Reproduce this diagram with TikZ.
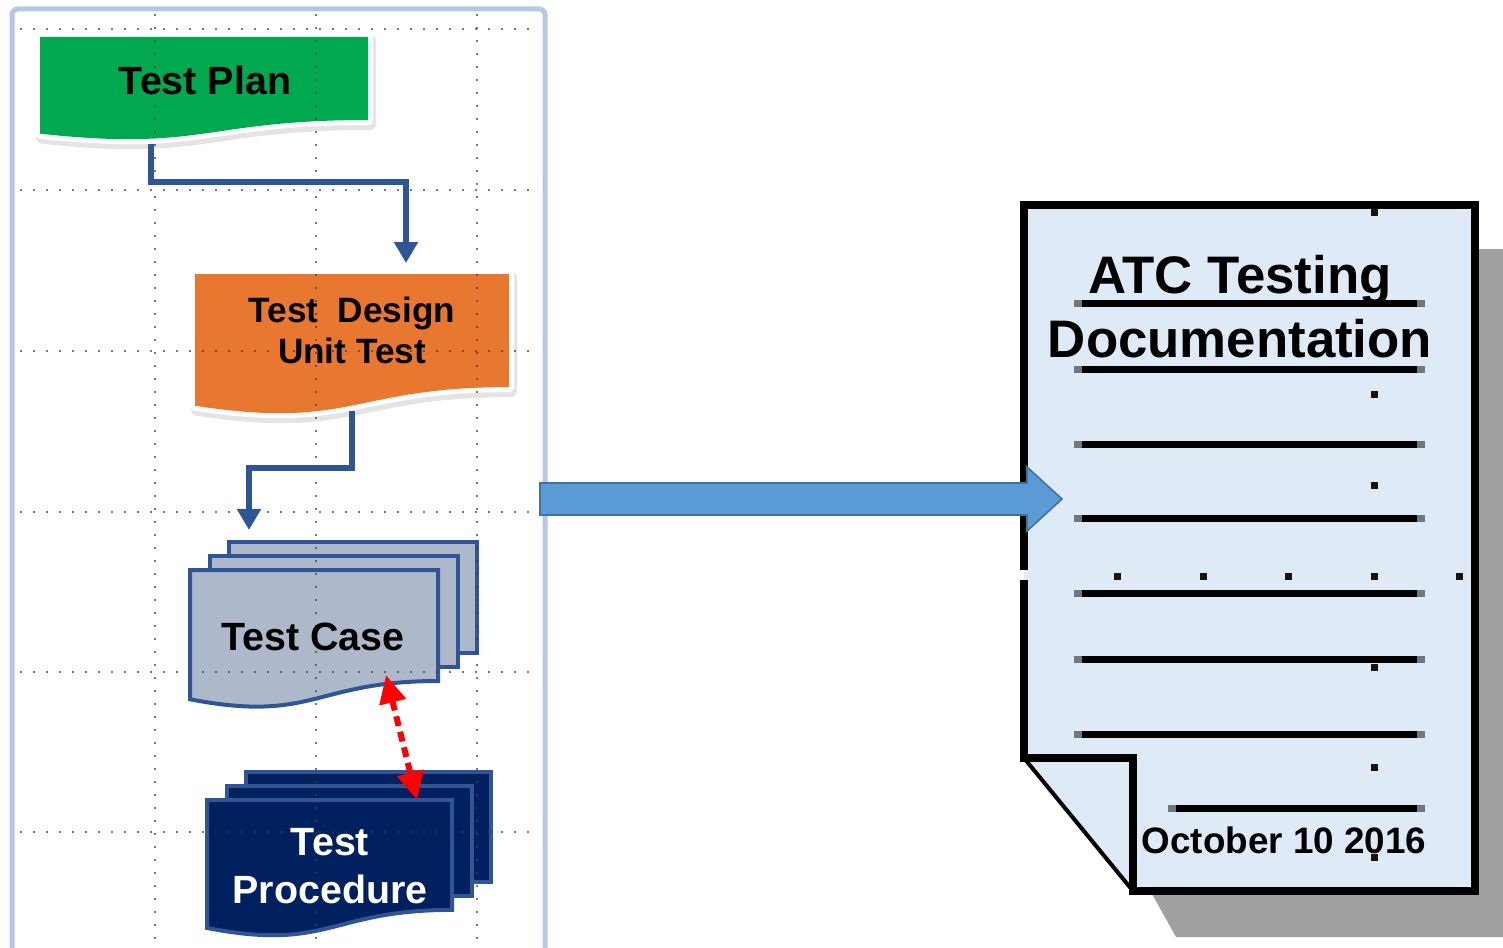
\documentclass[tikz,border=0pt]{standalone}
\usepackage{fontspec}
\setmainfont{Liberation Sans}
\usetikzlibrary{arrows.meta}
\definecolor{planGreen}{HTML}{00A850}
\definecolor{designOrange}{HTML}{E87830}
\definecolor{caseGray}{HTML}{ADB9CA}
\definecolor{procNavy}{HTML}{002060}
\definecolor{edgeBlue}{HTML}{2F5597}
\definecolor{panelBlue}{HTML}{B4C7E7}
\definecolor{arrowBlue}{HTML}{5B9BD5}
\definecolor{arrowEdge}{HTML}{41719C}
\definecolor{paperBlue}{HTML}{DEEAF6}
\definecolor{shadowGray}{HTML}{A0A0A0}
\definecolor{handleGray}{HTML}{6E7680}
\newcommand{\docShape}[4]{(#1,#2) -- (#3,#2) -- (#3,{#2+0.802*(#4-#2)}) .. controls ({(#1+#3)/2},{#2+0.802*(#4-#2)}) and ({(#1+#3)/2},{#2+1.107*(#4-#2)}) .. (#1,{#2+0.934*(#4-#2)}) -- cycle}
\newcommand{\glowDoc}[5]{%
  \filldraw[black!30, line width=6pt, line join=round, opacity=0.35, shift={(2,4)}] \docShape{#2}{#3}{#4}{#5};
  \filldraw[white, line width=5pt, line join=round] \docShape{#2}{#3}{#4}{#5};
  \fill[#1] \docShape{#2}{#3}{#4}{#5};}
\newcommand{\stackDoc}[5]{%
  \foreach \k in {2,1}
    \filldraw[stackEdge, fill=#1] ({#2+19.5*\k},{#3-14*\k}) rectangle ({#4+19.5*\k},{#3-14*\k+0.802*(#5-#3)});
  \filldraw[stackEdge, fill=#1] \docShape{#2}{#3}{#4}{#5};}

\begin{document}
\begin{tikzpicture}[x=0.5pt, y=-0.5pt]
  \tikzset{
    boxText/.style={font=\fontsize{19.7}{24}\selectfont\bfseries, align=center, inner sep=0pt},
    titleText/.style={font=\fontsize{26.4}{32}\selectfont\bfseries, align=center, inner sep=0pt},
    dateText/.style={font=\fontsize{18.4}{22}\selectfont\bfseries, inner sep=0pt},
    stackEdge/.style={draw=edgeBlue, line width=2pt},
    gridDots/.style={draw=black!75, line width=1pt, dash pattern=on 1pt off 5.5pt, opacity=0.7},
    flow/.style={draw=edgeBlue, line width=3pt, -{Triangle[length=10.5pt, width=11.5pt]}},
    linkRed/.style={draw=red, line width=3pt, dash pattern=on 5pt off 3pt, {Triangle[length=14pt, width=13pt]}-{Triangle[length=14pt, width=13pt]}},
    bigArrow/.style={fill=arrowBlue, draw=arrowEdge, line width=0.8pt},
    ruleLine/.style={draw=black, line width=3.5pt},
    ruleEnd/.style={draw=handleGray, line width=3.5pt},
    dotMark/.style={fill=black!85!brown}
  }
  \useasboundingbox (0,0) rectangle (1503,947);
  \draw[panelBlue, line width=2.5pt, rounded corners=3pt] (12,9) rectangle (545,975);
  \glowDoc{planGreen}{40}{37}{368}{140.5}
  \glowDoc{designOrange}{195}{274}{509}{415}
  \stackDoc{caseGray}{190}{570}{438}{708.4}
  \stackDoc{procNavy}{207}{800}{452}{937}
  \foreach \y in {29,190,351,512,672,832}
    \draw[gridDots] (20,\y) -- (535,\y);
  \foreach \x in {155,316,477}
    \draw[gridDots] (\x,14) -- (\x,947);
  \node[boxText, anchor=base] (plan) at (205,95) {Test Plan};
  \node[boxText, font=\fontsize{17.6}{20.5}\selectfont\bfseries, anchor=base] (design) at (352,363) {Test\ \ Design\\Unit Test};
  \node[boxText, anchor=base] (case) at (313,650) {Test Case};
  \node[boxText, text=white, anchor=base] (proc) at (330,903) {Test\\Procedure};
  \coordinate (planOut) at (151,144);
  \coordinate (designIn) at (406,263);
  \coordinate (designOut) at (352,411);
  \coordinate (caseIn) at (249,530);
  \coordinate (caseLink) at (386,675);
  \coordinate (procLink) at (417,800);
  \draw[flow] (planOut) -- ++(0,38) -| (designIn);
  \draw[flow] (designOut) -- ++(0,57) -| (caseIn);
  \draw[linkRed] (caseLink) -- (procLink);
  % documentation sheet
  \fill[shadowGray] (1479,249) -- (1503,249) -- (1503,937) -- (1176,937) -- (1152,894) -- (1479,894) -- cycle;
  \fill[paperBlue] (1024,205) -- (1475,205) -- (1475,891) -- (1133,891) -- (1024,758) -- cycle;
  \draw[black, line width=4pt] (1024,570) -- (1024,205) -- (1475,205) -- (1475,891) -- (1129,891);
  \draw[black, line width=4pt] (1024,580) -- (1024,758) -- (1133,758) -- (1133,895);
  \draw[black, line width=2pt] (1024,758) -- (1133,891);
  \foreach \y in {303,369,444,518,593,659,734} {
    \draw[ruleEnd] (1074,\y) -- (1425,\y);
    \draw[ruleLine] (1082,\y) -- (1417,\y);
  }
  \draw[ruleEnd] (1168,808) -- (1425,808);
  \draw[ruleLine] (1176,808) -- (1417,808);
  \foreach \y in {212,394,485,576,667,767,857}
    \fill[dotMark] (1374,\y) +(-3.5,-3.5) rectangle +(3.5,3.5);
  \foreach \x in {1117,1203,1288,1459}
    \fill[dotMark] (\x,576) +(-3.5,-3.5) rectangle +(3.5,3.5);
  \node[titleText, anchor=base] (title) at (1240,357) {ATC Testing\\Documentation};
  \node[dateText, anchor=base] (date) at (1284,853) {October 10 2016};
  \coordinate (panelEdge) at (540,499);
  \coordinate (docTip) at (1062,499);
  \draw[bigArrow] (panelEdge) ++(0,-16) -- ++(487,0) -- ++(0,-16) -- (docTip) -- ++(-35,32) -- ++(0,-16) -- ++(-487,0) -- cycle;
\end{tikzpicture}
\end{document}
